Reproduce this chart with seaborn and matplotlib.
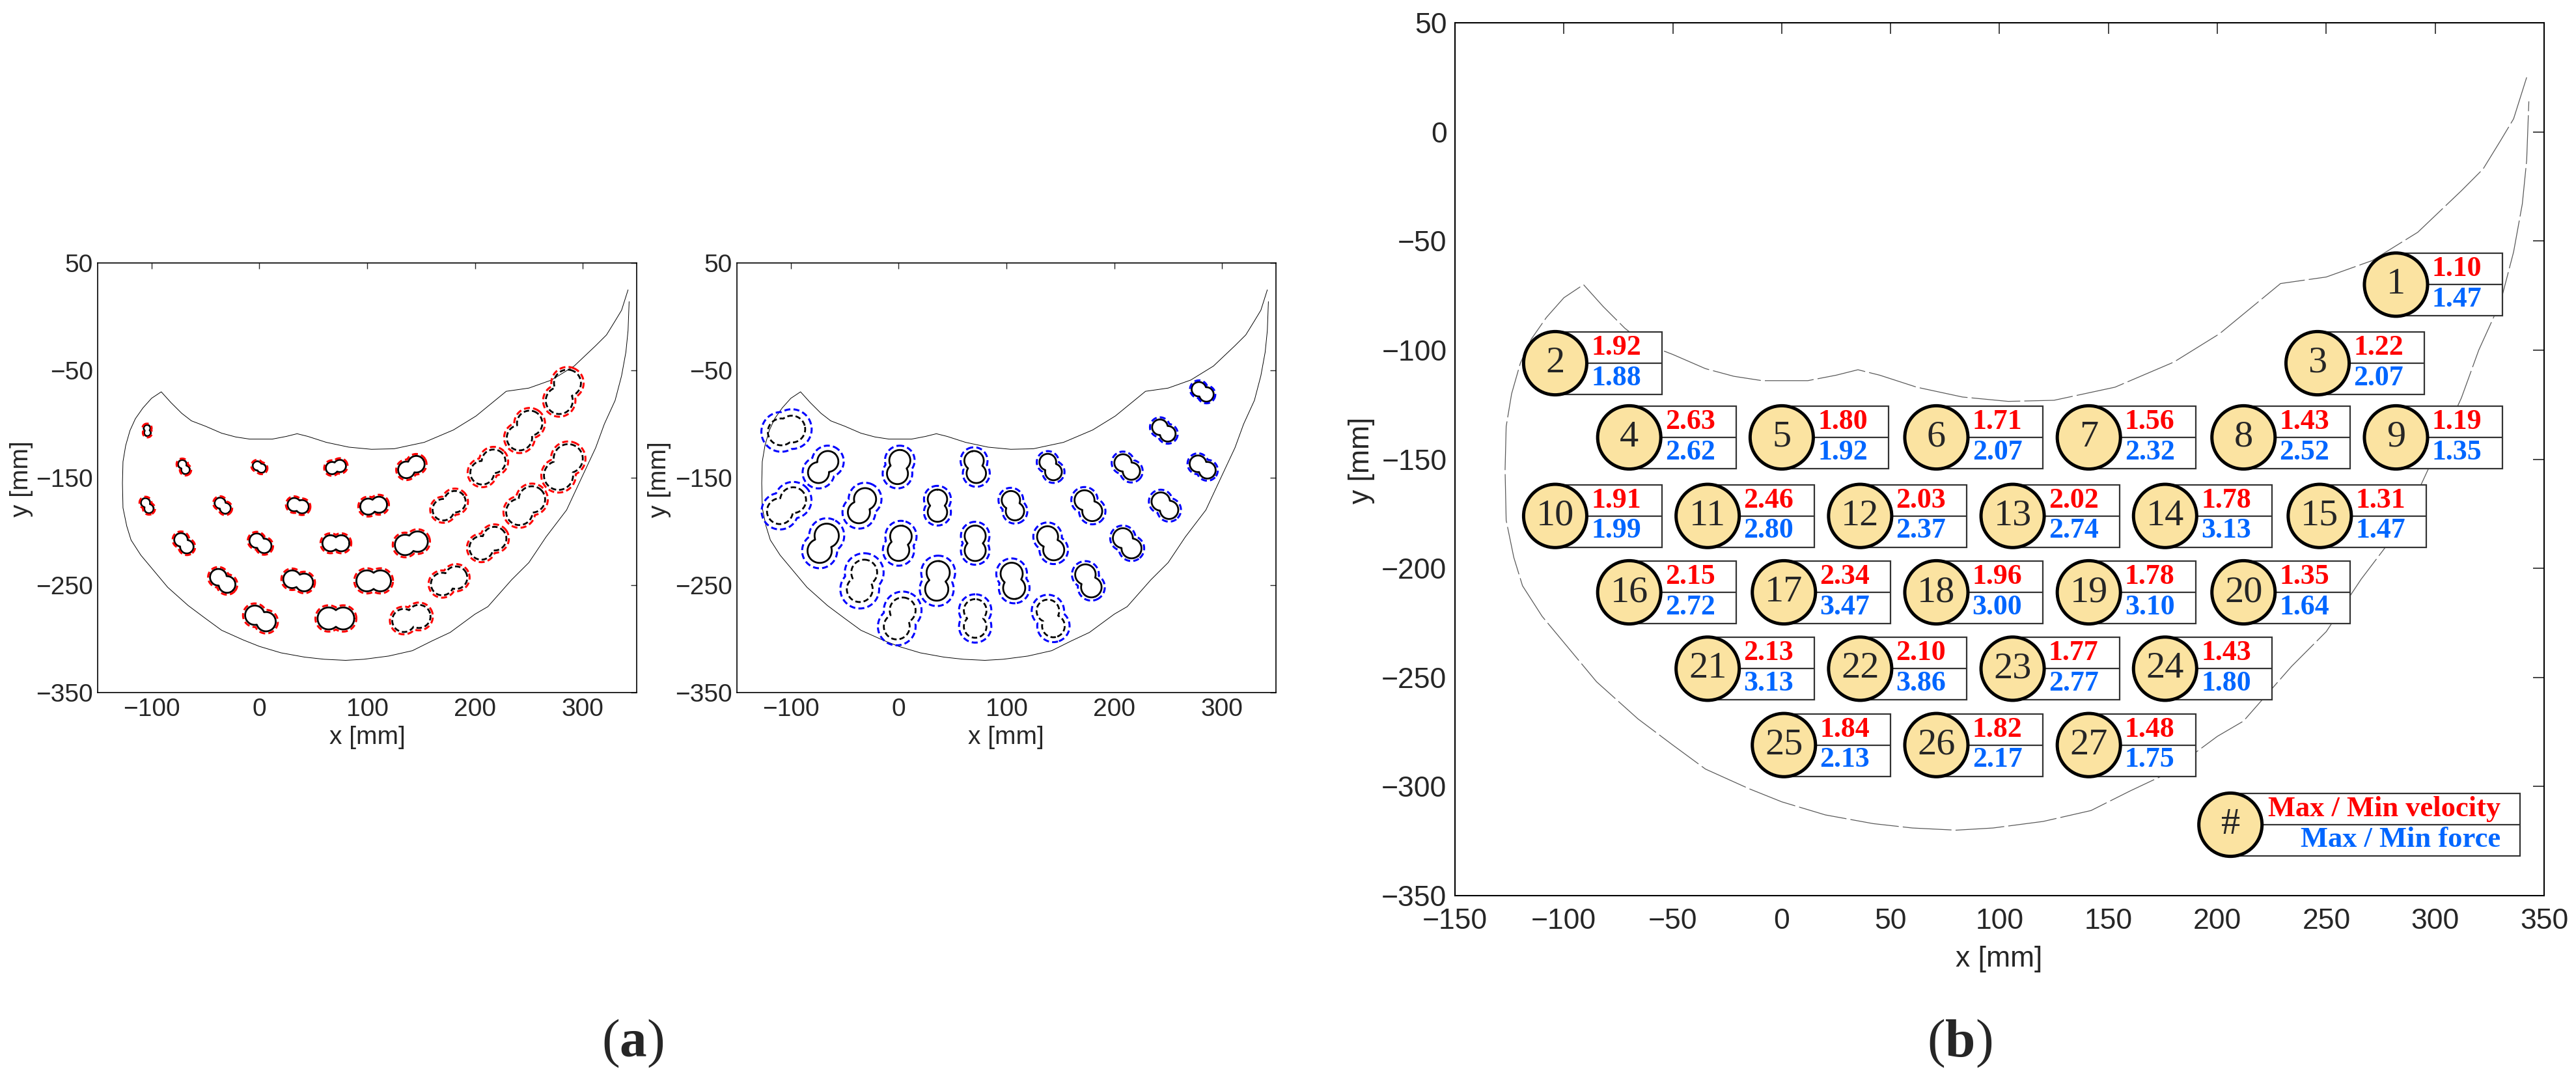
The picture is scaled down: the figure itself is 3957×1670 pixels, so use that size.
import numpy as np
import pandas as pd
import matplotlib
matplotlib.use('Agg')
import matplotlib.pyplot as plt
import seaborn as sns
from matplotlib.patches import Circle, Rectangle

sns.set_style('white')
plt.rcParams['font.family'] = ['Liberation Sans', 'DejaVu Sans']
plt.rcParams['mathtext.fontset'] = 'custom'
plt.rcParams['mathtext.rm'] = 'Liberation Serif'
plt.rcParams['mathtext.bf'] = 'Liberation Serif:bold'

# measuring points (mm)
point_id = list(range(1, 28))
point_x = [282, -104, 246, -70, 0, 71, 141, 212, 282, -104, -34, 36, 106, 176, 247,
           -70, 1, 71, 141, 212, -34, 36, 106, 176, 1, 71, 141]
point_y = [-70, -106, -106, -140, -140, -140, -140, -140, -140, -176, -176, -176, -176, -176, -176,
           -211, -211, -211, -211, -211, -246, -246, -246, -246, -281, -281, -281]

# max/min ratios shown in panel (b)
vel_ratio = ['1.10', '1.92', '1.22', '2.63', '1.80', '1.71', '1.56', '1.43', '1.19', '1.91',
             '2.46', '2.03', '2.02', '1.78', '1.31', '2.15', '2.34', '1.96', '1.78', '1.35',
             '2.13', '2.10', '1.77', '1.43', '1.84', '1.82', '1.48']
force_ratio = ['1.47', '1.88', '2.07', '2.62', '1.92', '2.07', '2.32', '2.52', '1.35', '1.99',
               '2.80', '2.37', '2.74', '3.13', '1.47', '2.72', '3.47', '3.00', '3.10', '1.64',
               '3.13', '3.86', '2.77', '1.80', '2.13', '2.17', '1.75']

# workspace outline (mm)
edge_x = [342, 336, 330, 322, 312, 292, 271, 250, 229, 215, 201, 180, 153, 125, 104, 83, 62, 45,
          35, 25, 12, -9, -22, -35, -50, -63, -72, -82, -91,
          -100, -108, -115, -120, -124, -126.5, -127, -126.5, -123, -119, -110, -100, -85, -66,
          -50, -35, -15, 0, 20, 42, 60, 80, 97, 120, 142, 160, 177, 200, 212, 234, 250, 266,
          285, 298, 312, 320, 330, 336, 340, 342, 343]
edge_y = [25, 6, -4, -17, -27, -46, -59, -66.5, -69.5, -81, -92.5, -105.5, -117, -123, -123.5,
          -121.5, -117, -111.5, -109, -111.5, -114, -114, -112, -108.5, -102, -97, -90, -80, -70,
          -76, -85, -95, -106, -120, -135, -155, -178, -195, -208, -222, -234, -252, -269,
          -281, -292, -301, -307, -313, -317, -319, -320, -319, -316, -311, -302, -294, -277,
          -270, -245, -229, -205, -180, -152, -122, -100, -78, -55, -33, -13, 14]

# velocity contours: length, width, angle (deg), gap to red curve
vel_len = [43, 10.5, 40, 14, 13, 19, 26, 37, 45, 15, 17, 20, 25, 33, 41, 21, 22, 25, 31, 37,
           26, 28, 32, 35, 30, 34, 36]
vel_wid = [25, 6.2, 23.5, 8, 8.5, 11.5, 15.5, 22, 27, 8.6, 10.2, 12.5, 15, 20, 24.5, 12.5, 13.5,
           15, 19, 22, 15.5, 16.5, 19.5, 21, 18, 20.5, 21.5]
vel_ang = [65, 95, 55, -60, -30, 15, 30, 45, 60, -60, -45, -15, 10, 35, 45, -50, -35, 0, 15, 35,
           -40, -15, 0, 25, -30, 0, 15]
vel_gap = [2.5, 1.2, 2.5, 1.3, 1.3, 1.5, 1.8, 2.5, 2.5, 1.3, 1.3, 1.5, 1.8, 2.2, 2.5, 1.5, 1.5,
           1.8, 2.0, 2.3, 1.8, 1.8, 2.0, 2.2, 2.0, 2.0, 2.2]
vel_dashed = [1, 3, 8, 9, 14, 15, 20, 24, 27]

# force contours
frc_len = [22, 35, 24, 33, 32, 30, 26, 27, 26, 40, 34, 30, 28, 31, 28, 38, 33, 33, 33, 31,
           40, 37, 34, 32, 40, 36, 36]
frc_wid = [13.5, 25, 14.5, 19.5, 19.5, 18, 15.5, 16, 15.5, 24, 20.5, 18, 17, 18.5, 17, 22.5, 20,
           19.5, 19.5, 18.5, 24, 21.5, 20.5, 19, 24, 21, 21]
frc_ang = [-35, 15, -40, 50, 80, 100, -60, -45, -35, 40, 65, 90, -70, -55, -45, 65, 80, 90, -65,
           -50, 75, 85, -80, -65, 70, 90, -70]
frc_gap = [1.5, 6, 2, 5, 4, 3.5, 2.5, 2.5, 2, 5, 5, 3.5, 3, 3, 2.5, 5, 4.5, 3.5, 3.5, 2.5,
           6, 5, 4, 3, 5.5, 4.5, 4.5]
frc_dashed = [2, 10, 21, 25, 26, 27]


def peanut(cx, cy, length, width, angle, grow=0.0, n=240):
    # outline of two overlapping lobes, optionally grown outward by `grow`
    r = width / 2.0
    d = max(length / 2.0 - r, 0.0)
    r = r + grow
    t = np.linspace(0, 2 * np.pi, n)
    s = d * np.abs(np.cos(t)) + np.sqrt(np.clip(r ** 2 - (d * np.sin(t)) ** 2, 0, None))
    px, py = s * np.cos(t), s * np.sin(t)
    a = np.deg2rad(angle)
    return cx + px * np.cos(a) - py * np.sin(a), cy + px * np.sin(a) + py * np.cos(a)


def blob_frame(lengths, widths, angles, gaps=None):
    parts = []
    for i, pid in enumerate(point_id):
        g = 0.0 if gaps is None else gaps[i]
        bx, by = peanut(point_x[i], point_y[i], lengths[i], widths[i], angles[i], g)
        parts.append(pd.DataFrame({'x': bx, 'y': by, 'blob': pid}))
    return pd.concat(parts, ignore_index=True)


edge = pd.DataFrame({'x': edge_x, 'y': edge_y, 'blob': 0})

fig = plt.figure(figsize=(3957 / 200, 1670 / 200), dpi=200)
ax1 = fig.add_axes([150 / 3957, 1 - 1064 / 1670, 828 / 3957, 660 / 1670])
ax2 = fig.add_axes([1132 / 3957, 1 - 1064 / 1670, 828 / 3957, 660 / 1670])
ax3 = fig.add_axes([2235 / 3957, 1 - 1376 / 1670, 1673 / 3957, 1341 / 1670])

dash = (0, (3, 1.6))
panels = [(ax1, vel_len, vel_wid, vel_ang, vel_gap, vel_dashed, 'red'),
          (ax2, frc_len, frc_wid, frc_ang, frc_gap, frc_dashed, '#0000FF')]
for ax, ln, wd, an, gp, dashed_ids, col in panels:
    sns.lineplot(data=edge, x='x', y='y', units='blob', estimator=None, sort=False,
                 color='k', lw=0.35, ax=ax)
    inner = blob_frame(ln, wd, an)
    outer = blob_frame(ln, wd, an, gp)
    is_dash = inner['blob'].isin(dashed_ids)
    sns.lineplot(data=inner[~is_dash], x='x', y='y', units='blob', estimator=None, sort=False,
                 color='k', lw=1.0, ax=ax)
    sns.lineplot(data=inner[is_dash], x='x', y='y', units='blob', estimator=None, sort=False,
                 color='k', lw=1.0, linestyle=dash, ax=ax)
    sns.lineplot(data=outer, x='x', y='y', units='blob', estimator=None, sort=False,
                 color=col, lw=1.1, linestyle=dash, ax=ax)
    ax.set_xlim(-150, 350)
    ax.set_ylim(-350, 50)
    ax.set_xticks([-100, 0, 100, 200, 300])
    ax.set_yticks([50, -50, -150, -250, -350])
    ax.set(xlabel='', ylabel='')
    ax.tick_params(direction='in', top=True, right=True, length=3.2, width=0.5,
                   labelsize=14, pad=2.5)
    ax.tick_params(axis='x', pad=3)
    for sp in ax.spines.values():
        sp.set_linewidth(0.6)
        sp.set_color('k')

# panel (b)
sns.lineplot(data=edge, x='x', y='y', units='blob', estimator=None, sort=False,
             color='0.35', lw=0.45, linestyle=(0, (60, 5)), ax=ax3)

rad = 14.5
half = 14.3
serif = 'Liberation Serif'
for i, pid in enumerate(point_id):
    cx, cy = point_x[i], point_y[i]
    ax3.add_patch(Rectangle((cx, cy - half), 49, 2 * half, facecolor='white',
                            edgecolor='0.2', lw=0.8, zorder=3))
    ax3.plot([cx, cx + 49], [cy, cy], color='0.2', lw=0.8, zorder=3)
    ax3.add_patch(Circle((cx, cy), rad, facecolor='#FBE3A1', edgecolor='k', lw=1.8, zorder=4))
    ax3.text(cx, cy, str(pid), ha='center', va='center', fontsize=21, family=serif, zorder=5)
    ax3.text(cx + 16.5, cy + 7.2, vel_ratio[i], ha='left', va='center', fontsize=15.8,
             family=serif, weight='bold', color='#FF0000', zorder=5)
    ax3.text(cx + 16.5, cy - 6.8, force_ratio[i], ha='left', va='center', fontsize=15.8,
             family=serif, weight='bold', color='#0066FF', zorder=5)

# key
kx, ky = 206, -317.5
ax3.add_patch(Rectangle((kx, ky - half), 133, 2 * half, facecolor='white',
                        edgecolor='0.2', lw=0.8, zorder=3))
ax3.plot([kx, kx + 133], [ky, ky], color='0.2', lw=0.8, zorder=3)
ax3.add_patch(Circle((kx, ky), rad, facecolor='#FBE3A1', edgecolor='k', lw=1.8, zorder=4))
ax3.text(kx, ky, '#', ha='center', va='center', fontsize=21, family=serif, zorder=5)
ax3.text(kx + 124, ky + 7.2, 'Max / Min velocity', ha='right', va='center', fontsize=16,
         family=serif, weight='bold', color='#FF0000', zorder=5)
ax3.text(kx + 124, ky - 6.8, 'Max / Min force', ha='right', va='center', fontsize=16,
         family=serif, weight='bold', color='#0066FF', zorder=5)

ax3.set_xlim(-150, 350)
ax3.set_ylim(-350, 50)
ax3.set_xticks(np.arange(-150, 351, 50))
ax3.set_yticks(np.arange(-350, 51, 50))
ax3.set(xlabel='', ylabel='')
ax3.tick_params(direction='in', top=True, right=True, length=6, width=0.6,
                labelsize=16, pad=4.5)
ax3.tick_params(axis='x', pad=7)
for sp in ax3.spines.values():
    sp.set_linewidth(0.75)
    sp.set_color('k')

# axis titles
fig.text(564 / 3957, 1 - 1133 / 1670, 'x [mm]', ha='center', va='center', fontsize=14)
fig.text(1545 / 3957, 1 - 1133 / 1670, 'x [mm]', ha='center', va='center', fontsize=14)
fig.text(33 / 3957, 1 - 736 / 1670, 'y [mm]', ha='center', va='center', fontsize=14, rotation=90)
fig.text(1013 / 3957, 1 - 737 / 1670, 'y [mm]', ha='center', va='center', fontsize=14, rotation=90)
fig.text(3071 / 3957, 1 - 1474 / 1670, 'x [mm]', ha='center', va='center', fontsize=16)
fig.text(2092 / 3957, 1 - 707 / 1670, 'y [mm]', ha='center', va='center', fontsize=16, rotation=90)

# panel letters
fig.text(972 / 3957, 1 - 1603 / 1670, r'($\mathbf{a}$)', ha='center', va='center',
         fontsize=30, family=serif)
fig.text(3010 / 3957, 1 - 1603 / 1670, r'($\mathbf{b}$)', ha='center', va='center',
         fontsize=30, family=serif)

fig.savefig('out.png', dpi=200, facecolor='white')
